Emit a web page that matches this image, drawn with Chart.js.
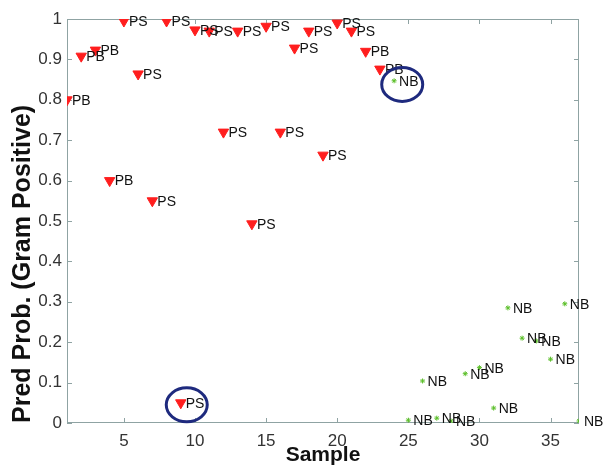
<!DOCTYPE html>
<html>
<head>
<meta charset="utf-8">
<script src="https://cdn.jsdelivr.net/npm/chart.js@4.4.1/dist/chart.umd.min.js"></script>
<style>
  html, body { margin: 0; padding: 0; background: #fff; }
</style>
</head>
<body>
<canvas id="predChart" width="604" height="468"></canvas>
<script>
// sample index, predicted probability and class label per sample
const samples = [1, 2, 3, 4, 5, 6, 7, 8, 9, 10, 11, 12, 13, 14, 15, 16, 17, 18, 19,
                 20, 21, 22, 23, 24, 25, 26, 27, 28, 29, 30, 31, 32, 33, 34, 35, 36, 37];
const predProb = [0.80, 0.908, 0.923, 0.60, 0.995, 0.864, 0.55, 0.995, 0.05, 0.973,
                  0.97, 0.72, 0.97, 0.493, 0.982, 0.72, 0.928, 0.97, 0.663, 0.99,
                  0.97, 0.92, 0.876, 0.847, 0.007, 0.104, 0.012, 0.005, 0.122, 0.137,
                  0.037, 0.285, 0.21, 0.203, 0.158, 0.295, 0.005];
const classLabels = ["PB", "PB", "PB", "PB", "PS", "PS", "PS", "PS", "PS", "PS",
                     "PS", "PS", "PS", "PS", "PS", "PS", "PS", "PS", "PS", "PS",
                     "PS", "PB", "PB", "NB", "NB", "NB", "NB", "NB", "NB", "NB",
                     "NB", "NB", "NB", "NB", "NB", "NB", "NB"];

const xTicks = [5, 10, 15, 20, 25, 30, 35];
const yTicks = [0, 0.1, 0.2, 0.3, 0.4, 0.5, 0.6, 0.7, 0.8, 0.9, 1];

// circled (misclassified) samples, centre in data units
const circleX = [9.42, 24.57];
const circleY = [0.045, 0.838];

Chart.defaults.font.family = "'Liberation Sans', Arial, sans-serif";

const positive = [];
const negative = [];
samples.forEach((s, i) => {
    const pt = { x: s, y: predProb[i], label: classLabels[i] };
    if (classLabels[i] === "NB") negative.push(pt);
    else positive.push(pt);
});

const frameColor = "#8fa3a3";

// box round the plot with inward ticks, matlab style
const framePlugin = {
    id: "frame",
    beforeDatasetsDraw(chart) {
        const { ctx, chartArea: a, scales } = chart;
        ctx.save();
        ctx.strokeStyle = frameColor;
        ctx.lineWidth = 1;
        ctx.strokeRect(a.left + 0.5, a.top + 0.5, a.width - 1, a.height - 1);
        ctx.beginPath();
        xTicks.forEach(v => {
            const x = Math.round(scales.x.getPixelForValue(v)) + 0.5;
            ctx.moveTo(x, a.bottom); ctx.lineTo(x, a.bottom - 5);
            ctx.moveTo(x, a.top); ctx.lineTo(x, a.top + 5);
        });
        yTicks.forEach(v => {
            const y = Math.round(scales.y.getPixelForValue(v)) + 0.5;
            ctx.moveTo(a.left, y); ctx.lineTo(a.left + 5, y);
            ctx.moveTo(a.right, y); ctx.lineTo(a.right - 5, y);
        });
        ctx.stroke();
        ctx.restore();
    }
};

const labelPlugin = {
    id: "pointLabels",
    afterDatasetsDraw(chart) {
        const ctx = chart.ctx;
        ctx.save();
        ctx.font = "14px 'Liberation Sans', Arial, sans-serif";
        ctx.fillStyle = "#111";
        ctx.textBaseline = "middle";
        chart.data.datasets.forEach((ds, di) => {
            chart.getDatasetMeta(di).data.forEach((el, i) => {
                ctx.fillText(ds.data[i].label, el.x + 5, el.y + 1);
            });
        });
        ctx.restore();
    }
};

const circlePlugin = {
    id: "circles",
    afterDatasetsDraw(chart) {
        const { ctx, scales } = chart;
        ctx.save();
        ctx.strokeStyle = "#1e2a7e";
        ctx.lineWidth = 3;
        circleX.forEach((cx, i) => {
            ctx.beginPath();
            ctx.ellipse(scales.x.getPixelForValue(cx), scales.y.getPixelForValue(circleY[i]),
                        20.5, 17, 0, 0, Math.PI * 2);
            ctx.stroke();
        });
        ctx.restore();
    }
};

new Chart(document.getElementById("predChart"), {
    type: "scatter",
    data: {
        datasets: [
            {
                label: "Gram positive",
                data: positive,
                pointStyle: "triangle",
                rotation: 180,
                pointRadius: 6,
                backgroundColor: "#ff1e1e",
                borderColor: "#ff1e1e",
                borderWidth: 1
            },
            {
                label: "Gram negative",
                data: negative,
                pointStyle: "star",
                pointRadius: 2.5,
                backgroundColor: "#5cbf2a",
                borderColor: "#5cbf2a",
                borderWidth: 1
            }
        ]
    },
    options: {
        responsive: false,
        animation: false,
        layout: { padding: { top: 19, right: 25, left: 0, bottom: 0 } },
        plugins: {
            legend: { display: false },
            tooltip: { enabled: false }
        },
        scales: {
            x: {
                type: "linear",
                min: 1,
                max: 37,
                afterBuildTicks: s => { s.ticks = xTicks.map(v => ({ value: v })); },
                afterFit: s => { s.height = 45; },
                grid: { display: false, drawTicks: false },
                border: { display: false },
                ticks: { font: { size: 17 }, color: "#333", padding: 8, maxRotation: 0 },
                title: {
                    display: true,
                    text: "Sample",
                    font: { size: 21, weight: "bold" },
                    color: "#111",
                    padding: 0
                }
            },
            y: {
                min: 0,
                max: 1,
                afterBuildTicks: s => { s.ticks = yTicks.map(v => ({ value: v })); },
                afterFit: s => { s.width = 67; },
                grid: { display: false, drawTicks: false },
                border: { display: false },
                ticks: {
                    font: { size: 17 },
                    color: "#333",
                    padding: 5,
                    callback: v => String(v)
                },
                title: {
                    display: true,
                    text: "Pred Prob. (Gram Positive)",
                    align: "start",
                    font: { size: 25, weight: "bold" },
                    color: "#111",
                    padding: { top: 8, bottom: 0 }
                }
            }
        }
    },
    plugins: [framePlugin, labelPlugin, circlePlugin]
});
</script>
</body>
</html>
